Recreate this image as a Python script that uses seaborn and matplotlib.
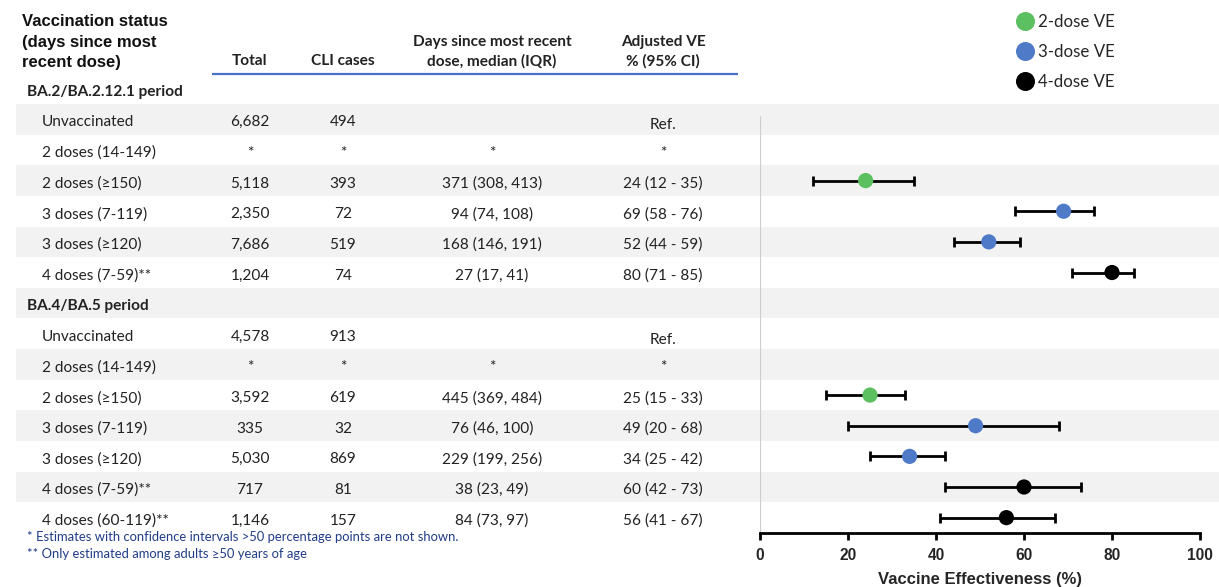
import numpy as np
import pandas as pd
import matplotlib
matplotlib.use("Agg")
import matplotlib.pyplot as plt
import seaborn as sns

# ---- table contents -------------------------------------------------------
periods = ["BA.2/BA.2.12.1 period", "BA.4/BA.5 period"]

status_ba2 = ["Unvaccinated", "2 doses (14-149)", "2 doses (\u2265150)",
              "3 doses (7-119)", "3 doses (\u2265120)", "4 doses (7-59)**"]
total_ba2 = ["6,682", "*", "5,118", "2,350", "7,686", "1,204"]
cli_ba2 = ["494", "*", "393", "72", "519", "74"]
days_ba2 = ["", "*", "371 (308, 413)", "94 (74, 108)", "168 (146, 191)", "27 (17, 41)"]
ve_ba2 = [None, None, 24, 69, 52, 80]
lo_ba2 = [None, None, 12, 58, 44, 71]
hi_ba2 = [None, None, 35, 76, 59, 85]
doses_ba2 = [0, 2, 2, 3, 3, 4]

status_ba4 = ["Unvaccinated", "2 doses (14-149)", "2 doses (\u2265150)",
              "3 doses (7-119)", "3 doses (\u2265120)", "4 doses (7-59)**",
              "4 doses (60-119)**"]
total_ba4 = ["4,578", "*", "3,592", "335", "5,030", "717", "1,146"]
cli_ba4 = ["913", "*", "619", "32", "869", "81", "157"]
days_ba4 = ["", "*", "445 (369, 484)", "76 (46, 100)", "229 (199, 256)",
            "38 (23, 49)", "84 (73, 97)"]
ve_ba4 = [None, None, 25, 49, 34, 60, 56]
lo_ba4 = [None, None, 15, 20, 25, 42, 41]
hi_ba4 = [None, None, 33, 68, 42, 73, 67]
doses_ba4 = [0, 2, 2, 3, 3, 4, 4]

dose_labels = {2: "2-dose VE", 3: "3-dose VE", 4: "4-dose VE"}
dose_colors = {"2-dose VE": "#5cbf60", "3-dose VE": "#4f7ac7", "4-dose VE": "#000000"}

footnotes = ["* Estimates with confidence intervals >50 percentage points are not shown.",
             "** Only estimated among adults \u226550 years of age"]

# ---- style ----------------------------------------------------------------
sns.set_style("white")
plt.rcParams["font.family"] = ["Lato", "DejaVu Sans"]

W, H = 1219, 587
fig = plt.figure(figsize=(W / 100, H / 100), dpi=100)

# background layer in pixel units for the table
bg = fig.add_axes([0, 0, 1, 1])
bg.set_xlim(0, W)
bg.set_ylim(H, 0)
bg.axis("off")

ROW_TOP = 104.0
ROW_H = 30.64
n_rows = 14
TXT_DY = 3  # optical offset so text sits centred in its stripe


def row_y(i):
    return ROW_TOP + (i + 0.5) * ROW_H


# zebra stripes
for i in range(0, n_rows, 2):
    bg.add_patch(plt.Rectangle((16, ROW_TOP + i * ROW_H), W - 16, ROW_H,
                               facecolor="#f2f2f2", edgecolor="none", zorder=0))

# column headers
hdr_font = dict(family=["Liberation Sans", "DejaVu Sans"], weight="bold",
                fontsize=12.0, color="#111111")
for k, line in enumerate(["Vaccination status", "(days since most", "recent dose)"]):
    bg.text(22, 22 + 20 * k, line, ha="left", va="center", **hdr_font)

col_font = dict(weight="bold", fontsize=11.1, color="#222222")
X_TOTAL, X_CLI, X_DAYS, X_VE = 250, 343, 492, 663
bg.text(X_TOTAL, 61, "Total", ha="center", va="center", **col_font)
bg.text(X_CLI, 61, "CLI cases", ha="center", va="center", **col_font)
bg.text(X_DAYS, 42, "Days since most recent", ha="center", va="center", **col_font)
bg.text(X_DAYS, 61, "dose, median (IQR)", ha="center", va="center", **col_font)
bg.text(X_VE, 42, "Adjusted VE", ha="center", va="center", **col_font)
bg.text(X_VE, 61, "% (95% CI)", ha="center", va="center", **col_font)
bg.plot([212, 738], [74, 74], color="#4472c4", lw=1.6, solid_capstyle="butt")

body_font = dict(fontsize=11.1, color="#222222")
period_font = dict(weight="bold", fontsize=11.1, color="#222222")

blocks = [
    (-1, periods[0], status_ba2, total_ba2, cli_ba2, days_ba2, ve_ba2, lo_ba2, hi_ba2, doses_ba2),
    (6, periods[1], status_ba4, total_ba4, cli_ba4, days_ba4, ve_ba4, lo_ba4, hi_ba4, doses_ba4),
]

forest = []
for head_row, name, status, total, cli, days, ve, lo, hi, doses in blocks:
    bg.text(27, row_y(head_row) + TXT_DY, name, ha="left", va="center", **period_font)
    for j in range(len(status)):
        r = head_row + 1 + j
        y = row_y(r) + TXT_DY
        bg.text(42, y, status[j], ha="left", va="center", **body_font)
        bg.text(X_TOTAL, y, total[j], ha="center", va="center", **body_font)
        bg.text(X_CLI, y, cli[j], ha="center", va="center", **body_font)
        if days[j]:
            bg.text(X_DAYS, y, days[j], ha="center", va="center", **body_font)
        if doses[j] == 0:
            ve_txt = "Ref."
        elif ve[j] is None:
            ve_txt = "*"
        else:
            ve_txt = f"{ve[j]} ({lo[j]} - {hi[j]})"
            forest.append(dict(row=r, ve=ve[j], lo=lo[j], hi=hi[j],
                               dose=dose_labels[doses[j]]))
        bg.text(X_VE, y + (3 if doses[j] == 0 else 0), ve_txt,
                ha="center", va="center", **body_font)

for k, note in enumerate(footnotes):
    bg.text(27, 537 + 17 * k, note, ha="left", va="center",
            fontsize=9.4, color="#1f3c88")

df = pd.DataFrame(forest)

# ---- forest plot ----------------------------------------------------------
AX_L, AX_R, AX_T, AX_B = 760, 1200, ROW_TOP, ROW_TOP + n_rows * ROW_H
ax = fig.add_axes([AX_L / W, 1 - AX_B / H, (AX_R - AX_L) / W, (AX_B - AX_T) / H])
ax.set_facecolor("none")

ax.errorbar(df["ve"], df["row"],
            xerr=[df["ve"] - df["lo"], df["hi"] - df["ve"]],
            fmt="none", ecolor="black", elinewidth=2, capsize=3.5,
            capthick=2, zorder=2)
sns.scatterplot(data=df, x="ve", y="row", hue="dose", palette=dose_colors,
                hue_order=list(dose_colors), s=120, edgecolor="none",
                zorder=3, ax=ax, legend=True)

ax.set_xlim(0, 100)
ax.set_ylim(n_rows - 0.5, -0.5)
ax.set_yticks([])
ax.set_ylabel("")
ax.axvline(0, ymin=0, ymax=(AX_B - 117) / (AX_B - AX_T), color="#cfcfcf", lw=1.6, zorder=1)
ax.set_xticks(range(0, 101, 20))
for s in ["top", "right", "left"]:
    ax.spines[s].set_visible(False)
ax.spines["bottom"].set_linewidth(2)
ax.spines["bottom"].set_color("black")
ax.tick_params(axis="x", bottom=True, length=5, width=2, color="black", pad=6)
for lbl in ax.get_xticklabels():
    lbl.set_fontfamily(["Liberation Sans", "DejaVu Sans"])
    lbl.set_fontweight("bold")
    lbl.set_fontsize(11.2)
ax.set_xlabel("Vaccine Effectiveness (%)", fontsize=12.0, fontweight="bold",
              family=["Liberation Sans", "DejaVu Sans"], labelpad=6)

handles, labels = ax.get_legend_handles_labels()
ax.get_legend().remove()
fig.legend(handles, labels, loc="upper left", bbox_to_anchor=(1008 / W, 1 - 7 / H),
           frameon=False, fontsize=12.2, labelspacing=0.82, handlelength=1.2,
           handletextpad=0.15, markerscale=1.25, borderaxespad=0)

fig.savefig("out.png", dpi=100)
